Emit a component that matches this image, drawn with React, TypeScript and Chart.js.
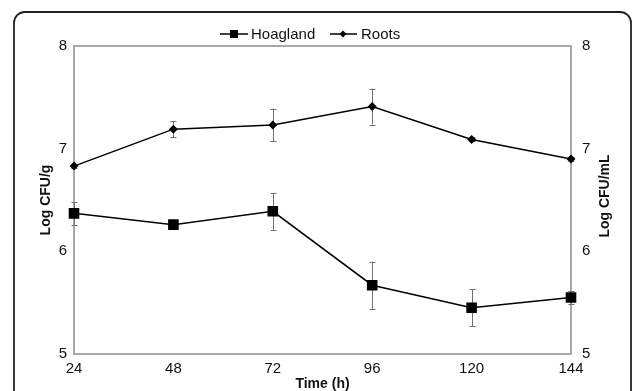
import React, { useEffect, useRef } from "react";
import { Chart, registerables } from "chart.js";

Chart.register(...registerables);

const timeLabels = ["24", "48", "72", "96", "120", "144"];
const hoaglandValues = [6.37, 6.26, 6.39, 5.67, 5.45, 5.55];
const hoaglandErrors = [0.11, 0.02, 0.18, 0.23, 0.18, 0.06];
const rootsValues = [6.83, 7.19, 7.23, 7.41, 7.09, 6.9];
const rootsErrors = [0.02, 0.08, 0.16, 0.175, 0.02, 0.02];
const xTitle = "Time (h)";
const yLeftTitle = "Log CFU/g";
const yRightTitle = "Log CFU/mL";

const FONT = "'Liberation Sans', Arial, sans-serif";

const framePlugin = {
  id: "frame",
  beforeDraw(chart: any) {
    const ctx = chart.ctx;
    ctx.save();
    ctx.strokeStyle = "#222";
    ctx.lineWidth = 1.8;
    const x0 = 14, y0 = 12, x1 = 631, y1 = 420, r = 11;
    ctx.beginPath();
    ctx.moveTo(x0, y1);
    ctx.lineTo(x0, y0 + r);
    ctx.arcTo(x0, y0, x0 + r, y0, r);
    ctx.lineTo(x1 - r, y0);
    ctx.arcTo(x1, y0, x1, y0 + r, r);
    ctx.lineTo(x1, y1);
    ctx.stroke();
    ctx.restore();
  },
  beforeDatasetsDraw(chart: any) {
    const ctx = chart.ctx;
    const a = chart.chartArea;
    ctx.save();
    ctx.strokeStyle = "#8c8c8c";
    ctx.lineWidth = 1.5;
    ctx.strokeRect(a.left, a.top, a.right - a.left, a.bottom - a.top);
    // error bars
    const xs = chart.scales.x;
    const ys = chart.scales.y;
    ctx.strokeStyle = "#707070";
    ctx.lineWidth = 1;
    const sets = [
      { v: hoaglandValues, e: hoaglandErrors },
      { v: rootsValues, e: rootsErrors },
    ];
    sets.forEach((s) => {
      s.v.forEach((val, i) => {
        const x = Math.round(xs.getPixelForValue(i)) + 0.5;
        const yt = ys.getPixelForValue(val + s.e[i]);
        const yb = ys.getPixelForValue(val - s.e[i]);
        ctx.beginPath();
        ctx.moveTo(x, yt);
        ctx.lineTo(x, yb);
        ctx.moveTo(x - 3, Math.round(yt) + 0.5);
        ctx.lineTo(x + 3, Math.round(yt) + 0.5);
        ctx.moveTo(x - 3, Math.round(yb) + 0.5);
        ctx.lineTo(x + 3, Math.round(yb) + 0.5);
        ctx.stroke();
      });
    });
    ctx.restore();
  },
  afterDraw(chart: any) {
    const ctx = chart.ctx;
    const a = chart.chartArea;
    ctx.save();
    ctx.fillStyle = "#111";
    ctx.font = `bold 14px ${FONT}`;
    ctx.textAlign = "center";
    ctx.textBaseline = "middle";
    ctx.fillText(xTitle, (a.left + a.right) / 2, 384);
    ctx.save();
    ctx.translate(46, (a.top + a.bottom) / 2);
    ctx.rotate(-Math.PI / 2);
    ctx.fillText(yLeftTitle, 0, 0);
    ctx.restore();
    ctx.save();
    ctx.translate(605, (a.top + a.bottom) / 2 - 4);
    ctx.rotate(-Math.PI / 2);
    ctx.fillText(yRightTitle, 0, 0);
    ctx.restore();

    // legend
    const ly = 34;
    ctx.strokeStyle = "#000";
    ctx.lineWidth = 1.5;
    ctx.fillStyle = "#000";
    // Hoagland
    ctx.beginPath();
    ctx.moveTo(220, ly);
    ctx.lineTo(248, ly);
    ctx.stroke();
    ctx.fillRect(234 - 4, ly - 4, 8, 8);
    // Roots
    ctx.beginPath();
    ctx.moveTo(330, ly);
    ctx.lineTo(357, ly);
    ctx.stroke();
    ctx.beginPath();
    ctx.moveTo(343, ly - 3.5);
    ctx.lineTo(346.5, ly);
    ctx.lineTo(343, ly + 3.5);
    ctx.lineTo(339.5, ly);
    ctx.closePath();
    ctx.fill();
    ctx.font = `15px ${FONT}`;
    ctx.textAlign = "left";
    ctx.fillStyle = "#111";
    ctx.fillText("Hoagland", 251, ly + 0.5);
    ctx.fillText("Roots", 361, ly + 0.5);
    ctx.restore();
  },
};

export default function App() {
  const ref = useRef<HTMLCanvasElement | null>(null);
  useEffect(() => {
    if (!ref.current) return;
    const chart = new Chart(ref.current, {
      type: "line",
      data: {
        labels: timeLabels,
        datasets: [
          {
            label: "Hoagland",
            data: hoaglandValues,
            borderColor: "#000",
            backgroundColor: "#000",
            borderWidth: 1.5,
            pointStyle: "rect",
            pointRadius: 7.5,
            pointHoverRadius: 7.5,
            pointBorderWidth: 0,
            tension: 0,
            yAxisID: "y",
          },
          {
            label: "Roots",
            data: rootsValues,
            borderColor: "#000",
            backgroundColor: "#000",
            borderWidth: 1.5,
            pointStyle: "rectRot",
            pointRadius: 4.5,
            pointHoverRadius: 4.5,
            pointBorderWidth: 0,
            tension: 0,
            yAxisID: "y",
          },
        ],
      },
      options: {
        responsive: false,
        animation: false,
        events: [],
        layout: { padding: { top: 46, left: 0, right: 0, bottom: 0 } },
        plugins: {
          legend: { display: false },
          tooltip: { enabled: false },
        },
        scales: {
          x: {
            type: "category",
            offset: false,
            grid: { display: false, drawTicks: false },
            border: { display: false },
            ticks: {
              padding: 6,
              color: "#111",
              font: { family: FONT, size: 15 },
              maxRotation: 0,
              autoSkip: false,
            },
            afterFit: (s: any) => {
              s.height = 37;
            },
          },
          y: {
            position: "left",
            min: 5,
            max: 8,
            grid: { display: false, drawTicks: false },
            border: { display: false },
            ticks: {
              stepSize: 1,
              padding: 7,
              color: "#111",
              font: { family: FONT, size: 15 },
            },
            afterFit: (s: any) => {
              s.width = 74;
            },
          },
          y1: {
            position: "right",
            min: 5,
            max: 8,
            grid: { display: false, drawTicks: false },
            border: { display: false },
            ticks: {
              stepSize: 1,
              padding: 11,
              color: "#111",
              font: { family: FONT, size: 15 },
            },
            afterFit: (s: any) => {
              s.width = 62;
            },
          },
        },
      },
      plugins: [framePlugin],
    });
    return () => chart.destroy();
  }, []);
  return (
    <div style={{ position: "fixed", left: 0, top: 0, width: 633, height: 391, background: "#fff" }}>
      <canvas ref={ref} width={633} height={391} style={{ display: "block" }} />
    </div>
  );
}
